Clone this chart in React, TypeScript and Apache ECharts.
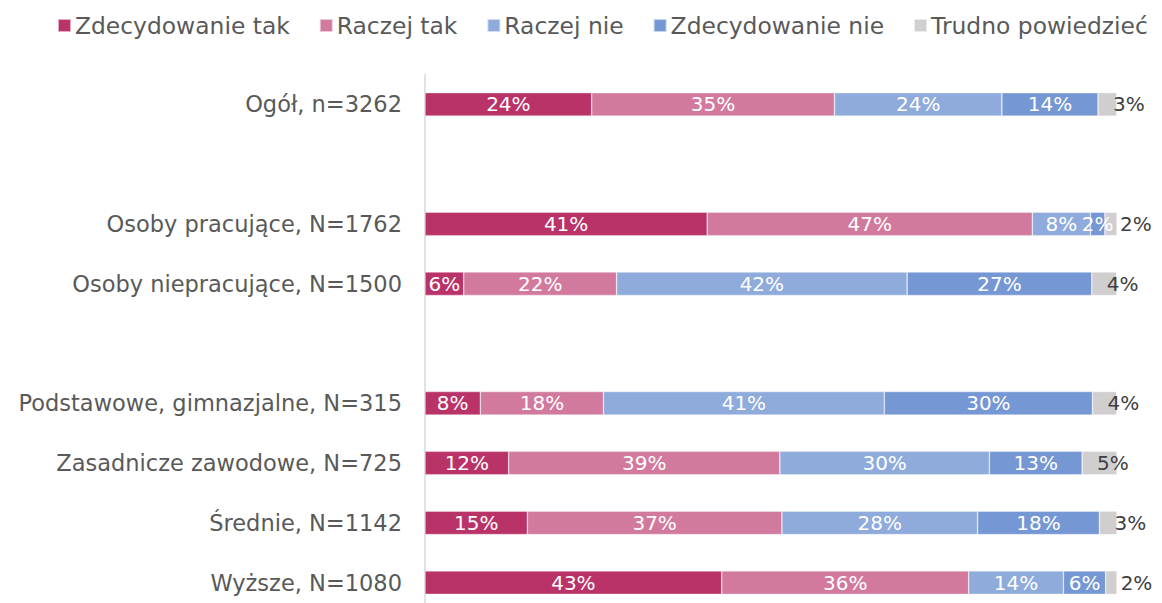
import React, { useEffect, useRef } from "react";
import * as echarts from "echarts";

const categories = [
  "Ogół, n=3262",
  "",
  "Osoby pracujące, N=1762",
  "Osoby niepracujące, N=1500",
  "",
  "Podstawowe, gimnazjalne, N=315",
  "Zasadnicze zawodowe, N=725",
  "Średnie, N=1142",
  "Wyższe, N=1080",
];

const seriesNames = [
  "Zdecydowanie tak",
  "Raczej tak",
  "Raczej nie",
  "Zdecydowanie nie",
  "Trudno powiedzieć",
];

const zdecydowanieTak = [24.1, null, 40.8, 5.6, null, 8.0, 12.1, 14.8, 42.9];
const raczejTak = [35.1, null, 47.0, 22.1, null, 17.8, 39.2, 36.8, 35.7];
const raczejNie = [24.2, null, 8.4, 42.0, null, 40.6, 30.3, 28.3, 13.7];
const zdecydowanieNie = [13.9, null, 2.1, 26.7, null, 30.1, 13.4, 17.6, 6.1];
const trudnoPowiedziec = [2.7, null, 1.8, 3.6, null, 3.5, 5.1, 2.6, 1.7];

const colors = ["#B93369", "#D17A9E", "#8FABDC", "#7597D3", "#D0CECE"];

const FONT = "'DejaVu Sans', sans-serif";

export default function App() {
  const ref = useRef<HTMLDivElement>(null);

  useEffect(() => {
    document.body.style.margin = "0";
    if (!ref.current) return;
    const chart = echarts.init(ref.current, null, { renderer: "svg" });
    const values = [zdecydowanieTak, raczejTak, raczejNie, zdecydowanieNie, trudnoPowiedziec];
    const fmt = (p: any) =>
      p.value === null || p.value === undefined ? "" : Math.round(p.value) + "%";

    const series = values.map((data, i) => {
      const isLast = i === values.length - 1;
      return {
        name: seriesNames[i],
        type: "bar",
        stack: "total",
        data,
        barWidth: 23.5,
        itemStyle: {
          color: colors[i],
          borderColor: "rgba(255,255,255,0.6)",
          borderWidth: 0.6,
        },
        label: isLast
          ? {
              show: true,
              position: [15, "50%"],
              align: "left",
              verticalAlign: "middle",
              color: "#404040",
              fontFamily: FONT,
              fontSize: 20,
              formatter: fmt,
            }
          : {
              show: true,
              position: "inside",
              color: "#ffffff",
              fontFamily: FONT,
              fontSize: 20,
              formatter: fmt,
            },
      };
    });

    chart.setOption({
      animation: false,
      legend: {
        left: 57,
        top: 14,
        width: 1100,
        padding: 0,
        itemWidth: 13,
        itemHeight: 13,
        itemGap: 29,
        icon: "rect",
        data: seriesNames,
        textStyle: {
          fontFamily: FONT,
          fontSize: 23.4,
          color: "#595959",
          padding: [0, 0, 0, -1],
        },
      },
      grid: {
        left: 425,
        top: 74.5,
        width: 691.7,
        height: 538,
      },
      xAxis: {
        type: "value",
        min: 0,
        max: 100,
        show: false,
      },
      yAxis: {
        type: "category",
        inverse: true,
        data: categories,
        axisLine: { show: true, lineStyle: { color: "#D9D9D9", width: 1.5 } },
        axisTick: { show: false },
        axisLabel: {
          fontFamily: FONT,
          fontSize: 22.5,
          color: "#595959",
          margin: 23,
        },
      },
      series,
    });

    return () => chart.dispose();
  }, []);

  return (
    <div
      style={{
        position: "absolute",
        left: 0,
        top: 0,
        width: 1162,
        height: 603,
        overflow: "hidden",
      }}
    >
      <div ref={ref} style={{ width: 1162, height: 625 }} />
    </div>
  );
}
